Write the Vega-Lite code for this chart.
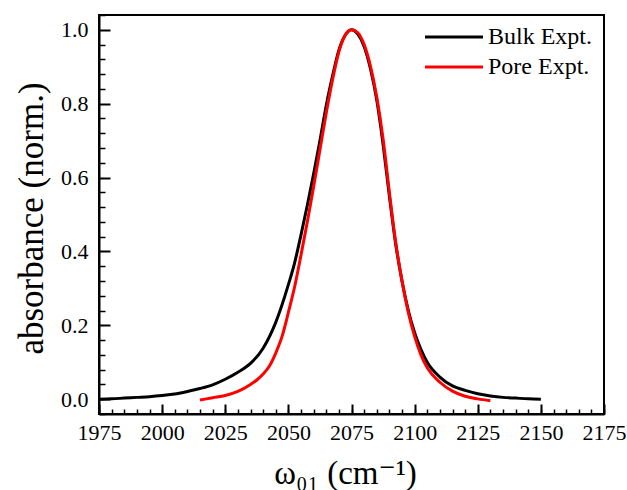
{
  "$schema": "https://vega.github.io/schema/vega-lite/v6.json",
  "width": 505,
  "height": 399,
  "autosize": {"type": "none"},
  "padding": {"left": 99, "top": 15, "right": 23, "bottom": 76},
  "background": "white",
  "config": {
    "view": {"stroke": "black", "strokeWidth": 2},
    "font": "'Liberation Serif', 'Times New Roman', 'DejaVu Serif', serif"
  },
  "data": {
    "values": [
      {"s": "Bulk Expt.", "w": 1975, "a": 0.000},
      {"s": "Bulk Expt.", "w": 1980, "a": 0.001},
      {"s": "Bulk Expt.", "w": 1985, "a": 0.003},
      {"s": "Bulk Expt.", "w": 1990, "a": 0.005},
      {"s": "Bulk Expt.", "w": 1995, "a": 0.007},
      {"s": "Bulk Expt.", "w": 2000, "a": 0.010},
      {"s": "Bulk Expt.", "w": 2005, "a": 0.014},
      {"s": "Bulk Expt.", "w": 2010, "a": 0.021},
      {"s": "Bulk Expt.", "w": 2015, "a": 0.029},
      {"s": "Bulk Expt.", "w": 2020, "a": 0.039},
      {"s": "Bulk Expt.", "w": 2025, "a": 0.054},
      {"s": "Bulk Expt.", "w": 2030, "a": 0.073},
      {"s": "Bulk Expt.", "w": 2035, "a": 0.097},
      {"s": "Bulk Expt.", "w": 2040, "a": 0.138},
      {"s": "Bulk Expt.", "w": 2045, "a": 0.208},
      {"s": "Bulk Expt.", "w": 2050, "a": 0.310},
      {"s": "Bulk Expt.", "w": 2052.5, "a": 0.370},
      {"s": "Bulk Expt.", "w": 2055, "a": 0.445},
      {"s": "Bulk Expt.", "w": 2057.5, "a": 0.525},
      {"s": "Bulk Expt.", "w": 2060, "a": 0.610},
      {"s": "Bulk Expt.", "w": 2062.5, "a": 0.700},
      {"s": "Bulk Expt.", "w": 2065, "a": 0.795},
      {"s": "Bulk Expt.", "w": 2067.5, "a": 0.875},
      {"s": "Bulk Expt.", "w": 2070, "a": 0.945},
      {"s": "Bulk Expt.", "w": 2072.5, "a": 0.985},
      {"s": "Bulk Expt.", "w": 2075, "a": 1.000},
      {"s": "Bulk Expt.", "w": 2077.5, "a": 0.988},
      {"s": "Bulk Expt.", "w": 2080, "a": 0.955},
      {"s": "Bulk Expt.", "w": 2082.5, "a": 0.895},
      {"s": "Bulk Expt.", "w": 2085, "a": 0.810},
      {"s": "Bulk Expt.", "w": 2087.5, "a": 0.690},
      {"s": "Bulk Expt.", "w": 2090, "a": 0.550},
      {"s": "Bulk Expt.", "w": 2092.5, "a": 0.420},
      {"s": "Bulk Expt.", "w": 2095, "a": 0.320},
      {"s": "Bulk Expt.", "w": 2097.5, "a": 0.240},
      {"s": "Bulk Expt.", "w": 2100, "a": 0.180},
      {"s": "Bulk Expt.", "w": 2102.5, "a": 0.135},
      {"s": "Bulk Expt.", "w": 2105, "a": 0.100},
      {"s": "Bulk Expt.", "w": 2110, "a": 0.060},
      {"s": "Bulk Expt.", "w": 2115, "a": 0.036},
      {"s": "Bulk Expt.", "w": 2120, "a": 0.024},
      {"s": "Bulk Expt.", "w": 2125, "a": 0.015},
      {"s": "Bulk Expt.", "w": 2130, "a": 0.009},
      {"s": "Bulk Expt.", "w": 2135, "a": 0.005},
      {"s": "Bulk Expt.", "w": 2140, "a": 0.003},
      {"s": "Bulk Expt.", "w": 2145, "a": 0.001},
      {"s": "Bulk Expt.", "w": 2150, "a": 0.000},
      {"s": "Pore Expt.", "w": 2015, "a": -0.002},
      {"s": "Pore Expt.", "w": 2020, "a": 0.004},
      {"s": "Pore Expt.", "w": 2025, "a": 0.010},
      {"s": "Pore Expt.", "w": 2030, "a": 0.021},
      {"s": "Pore Expt.", "w": 2035, "a": 0.040},
      {"s": "Pore Expt.", "w": 2037.5, "a": 0.052},
      {"s": "Pore Expt.", "w": 2040, "a": 0.068},
      {"s": "Pore Expt.", "w": 2042.5, "a": 0.090},
      {"s": "Pore Expt.", "w": 2045, "a": 0.125},
      {"s": "Pore Expt.", "w": 2047.5, "a": 0.170},
      {"s": "Pore Expt.", "w": 2050, "a": 0.235},
      {"s": "Pore Expt.", "w": 2052.5, "a": 0.305},
      {"s": "Pore Expt.", "w": 2055, "a": 0.390},
      {"s": "Pore Expt.", "w": 2057.5, "a": 0.480},
      {"s": "Pore Expt.", "w": 2060, "a": 0.575},
      {"s": "Pore Expt.", "w": 2062.5, "a": 0.675},
      {"s": "Pore Expt.", "w": 2065, "a": 0.775},
      {"s": "Pore Expt.", "w": 2067.5, "a": 0.865},
      {"s": "Pore Expt.", "w": 2070, "a": 0.940},
      {"s": "Pore Expt.", "w": 2072.5, "a": 0.985},
      {"s": "Pore Expt.", "w": 2075, "a": 1.000},
      {"s": "Pore Expt.", "w": 2077.5, "a": 0.992},
      {"s": "Pore Expt.", "w": 2080, "a": 0.960},
      {"s": "Pore Expt.", "w": 2082.5, "a": 0.902},
      {"s": "Pore Expt.", "w": 2085, "a": 0.818},
      {"s": "Pore Expt.", "w": 2087.5, "a": 0.705},
      {"s": "Pore Expt.", "w": 2090, "a": 0.560},
      {"s": "Pore Expt.", "w": 2092.5, "a": 0.425},
      {"s": "Pore Expt.", "w": 2095, "a": 0.320},
      {"s": "Pore Expt.", "w": 2097.5, "a": 0.235},
      {"s": "Pore Expt.", "w": 2100, "a": 0.170},
      {"s": "Pore Expt.", "w": 2102.5, "a": 0.120},
      {"s": "Pore Expt.", "w": 2105, "a": 0.085},
      {"s": "Pore Expt.", "w": 2110, "a": 0.046},
      {"s": "Pore Expt.", "w": 2115, "a": 0.022},
      {"s": "Pore Expt.", "w": 2120, "a": 0.008},
      {"s": "Pore Expt.", "w": 2125, "a": 0.001},
      {"s": "Pore Expt.", "w": 2130, "a": -0.004}
    ]
  },
  "resolve": {"axis": {"x": "independent", "y": "independent"}},
  "layer": [
    {
      "transform": [{"filter": "datum.s === 'Bulk Expt.'"}],
      "mark": {"type": "line", "strokeWidth": 3, "interpolate": "monotone"},
      "encoding": {
        "x": {
          "field": "w", "type": "quantitative",
          "scale": {"domain": [1975, 2175], "nice": false, "zero": false},
          "axis": {
            "orient": "bottom",
            "values": [1975, 2000, 2025, 2050, 2075, 2100, 2125, 2150, 2175],
            "format": "d",
            "grid": false,
            "tickSize": -10, "tickWidth": 2, "tickColor": "black",
            "domainColor": "black", "domainWidth": 2,
            "labelFont": "'Liberation Serif', 'Times New Roman', 'DejaVu Serif', serif", "labelFontSize": 22, "labelColor": "black",
            "labelPadding": 18, "labelFlush": false, "labelOverlap": false,
            "title": "ω₀₁ (cm⁻¹)",
            "titleFont": "'Liberation Serif', 'Times New Roman', 'DejaVu Serif', serif", "titleFontSize": 33, "titleFontWeight": "normal", "titleColor": "black",
            "titleX": 246, "titleY": 69, "titleBaseline": "alphabetic", "titleAlign": "center"
          }
        },
        "y": {
          "field": "a", "type": "quantitative",
          "scale": {"domain": [-0.04, 1.04], "nice": false, "zero": false},
          "axis": {
            "orient": "left",
            "values": [0, 0.2, 0.4, 0.6, 0.8, 1.0],
            "format": ".1f",
            "grid": false,
            "tickSize": -11, "tickWidth": 2, "tickColor": "black",
            "domainColor": "black", "domainWidth": 2,
            "labelFont": "'Liberation Serif', 'Times New Roman', 'DejaVu Serif', serif", "labelFontSize": 22, "labelColor": "black",
            "labelPadding": 22, "labelFlush": false, "labelOverlap": false,
            "title": "absorbance (norm.)",
            "titleFont": "'Liberation Serif', 'Times New Roman', 'DejaVu Serif', serif", "titleFontSize": 35, "titleFontWeight": "normal", "titleColor": "black",
            "titleX": -57, "titleY": 203, "titleBaseline": "alphabetic", "titleAlign": "center", "titleAngle": -90
          }
        },
        "color": {
          "field": "s", "type": "nominal",
          "scale": {"domain": ["Bulk Expt.", "Pore Expt."], "range": ["#000000", "#ff0000"]},
          "legend": {
            "title": null,
            "orient": "none", "legendX": 339, "legendY": 6,
            "symbolType": "M-2,0H2", "symbolSize": 841, "symbolStrokeWidth": 3,
            "labelFont": "'Liberation Serif', 'Times New Roman', 'DejaVu Serif', serif", "labelFontSize": 24, "labelColor": "black",
            "labelOffset": 18, "rowPadding": 2, "padding": 0
          }
        }
      }
    },
    {
      "transform": [{"filter": "datum.s === 'Pore Expt.'"}],
      "mark": {"type": "line", "strokeWidth": 3, "interpolate": "monotone"},
      "encoding": {
        "x": {
          "field": "w", "type": "quantitative",
          "axis": {
            "orient": "bottom",
            "values": [1975, 1980, 1985, 1990, 1995, 2000, 2005, 2010, 2015, 2020, 2025, 2030, 2035, 2040, 2045, 2050, 2055, 2060, 2065, 2070, 2075, 2080, 2085, 2090, 2095, 2100, 2105, 2110, 2115, 2120, 2125, 2130, 2135, 2140, 2145, 2150, 2155, 2160, 2165, 2170, 2175],
            "labels": false, "domain": false, "grid": false, "title": null,
            "tickSize": -5, "tickWidth": 1.5, "tickColor": "black"
          }
        },
        "y": {
          "field": "a", "type": "quantitative",
          "axis": {
            "orient": "left",
            "values": [-0.04, 0.04, 0.08, 0.12, 0.16, 0.24, 0.28, 0.32, 0.36, 0.44, 0.48, 0.52, 0.56, 0.64, 0.68, 0.72, 0.76, 0.84, 0.88, 0.92, 0.96, 1.04],
            "labels": false, "domain": false, "grid": false, "title": null,
            "tickSize": -6, "tickWidth": 1.5, "tickColor": "black"
          }
        },
        "color": {"field": "s", "type": "nominal"}
      }
    }
  ]
}
